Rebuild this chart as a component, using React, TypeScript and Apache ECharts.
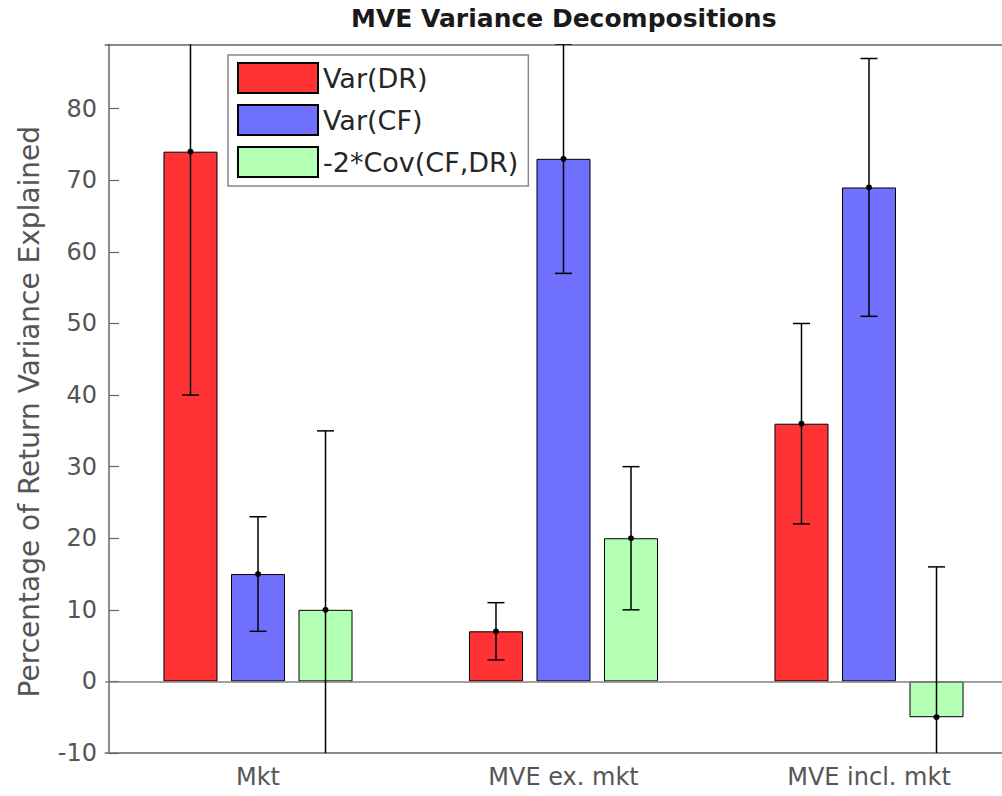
import React, { useEffect, useRef } from "react";
import * as echarts from "echarts";

const categories = ["Mkt", "MVE ex. mkt", "MVE incl. mkt"];
const seriesNames = ["Var(DR)", "Var(CF)", "-2*Cov(CF,DR)"];
const varDR = [74, 7, 36];
const varCF = [15, 73, 69];
const covTerm = [10, 20, -5];
const varDRErr = [34, 4, 14];
const varCFErr = [8, 16, 18];
const covErr = [25, 10, 21];
const yTicks = { min: -10, max: 89, interval: 10 };

const seriesColors = ["#FF3333", "#7070FF", "#B3FFB3"];
const FONT = "DejaVu Sans";
const BAR_RATIO = 0.1768;
const GAP_RATIO = 0.25;

export default function App() {
  const ref = useRef<HTMLDivElement>(null);
  useEffect(() => {
    if (!ref.current) return;
    const chart = echarts.init(ref.current, undefined, { renderer: "svg" });
    const values = [varDR, varCF, covTerm];
    const errs = [varDRErr, varCFErr, covErr];
    const errData: number[][] = [];
    values.forEach((vals, s) => {
      vals.forEach((v, i) => {
        errData.push([i, v - errs[s][i], v + errs[s][i], v, s]);
      });
    });

    const barSeries = values.map((vals, s) => ({
      name: seriesNames[s],
      type: "bar",
      data: vals,
      barWidth: BAR_RATIO * 100 + "%",
      barGap: GAP_RATIO * 100 + "%",
      itemStyle: { color: seriesColors[s], borderColor: "#000", borderWidth: 1 },
      z: 2,
      ...(s === 0
        ? {
            markLine: {
              silent: true,
              symbol: ["none", "none"],
              label: { show: false },
              lineStyle: { color: "#808080", width: 1.5, type: "solid" },
              data: [{ yAxis: 0 }],
            },
          }
        : {}),
    }));

    chart.setOption({
      animation: false,
      title: {
        text: "MVE Variance Decompositions",
        left: 351,
        top: 6,
        padding: 0,
        textStyle: { fontFamily: FONT, fontSize: 25, fontWeight: "bold", color: "#1a1a1a" },
      },
      legend: {
        data: seriesNames,
        orient: "vertical",
        left: 228,
        top: 55,
        itemWidth: 80,
        itemHeight: 30,
        itemGap: 10,
        padding: [7, 10, 8, 9],
        backgroundColor: "#fff",
        borderColor: "#888",
        borderWidth: 1.5,
        icon: "rect",
        textStyle: { fontFamily: FONT, fontSize: 27, color: "#262626" },
      },
      grid: { left: 105.25, right: 8.25, top: 44.3, bottom: 43, containLabel: false },
      xAxis: [
        {
          type: "category",
          data: categories,
          position: "bottom",
          axisLine: { onZero: false, lineStyle: { color: "#666", width: 1.5 } },
          axisTick: { inside: true, length: 10, alignWithLabel: true, lineStyle: { color: "#666", width: 1.2 } },
          axisLabel: { fontFamily: FONT, fontSize: 24, color: "#555", margin: 12 },
        },
        {
          type: "category",
          data: categories,
          position: "top",
          axisLine: { onZero: false, lineStyle: { color: "#666", width: 1.5 } },
          axisTick: { inside: true, length: 10, alignWithLabel: true, lineStyle: { color: "#666", width: 1.2 } },
          axisLabel: { show: false },
        },
      ],
      yAxis: {
        type: "value",
        min: yTicks.min,
        max: yTicks.max,
        interval: yTicks.interval,
        offset: -3.75,
        name: "Percentage of Return Variance Explained",
        nameLocation: "middle",
        nameGap: 66,
        nameTextStyle: { fontFamily: FONT, fontSize: 28, color: "#555", padding: [0, 26, 0, 0] },
        axisLine: { show: true, lineStyle: { color: "#666", width: 1.5 } },
        axisTick: { show: true, inside: true, length: 10, lineStyle: { color: "#666", width: 1.2 } },
        axisLabel: { fontFamily: FONT, fontSize: 24, color: "#555", margin: 12, showMaxLabel: false },
        splitLine: { show: false },
      },
      series: [
        ...barSeries,
        {
          type: "custom",
          name: "errors",
          clip: true,
          z: 5,
          data: errData,
          encode: { x: 0, y: [1, 2, 3] },
          renderItem: (params: any, api: any) => {
            const cat = api.value(0);
            const lo = api.value(1);
            const hi = api.value(2);
            const v = api.value(3);
            const s = api.value(4);
            const band = api.size([1, 0])[0];
            const off = (s - 1) * band * BAR_RATIO * (1 + GAP_RATIO);
            const pLo = api.coord([cat, lo]);
            const pHi = api.coord([cat, hi]);
            const pV = api.coord([cat, v]);
            const x = pV[0] + off;
            const cap = 8.5;
            const st = { stroke: "#000", lineWidth: 1.5 };
            return {
              type: "group",
              children: [
                { type: "line", shape: { x1: x, y1: pLo[1], x2: x, y2: pHi[1] }, style: st },
                { type: "line", shape: { x1: x - cap, y1: pLo[1], x2: x + cap, y2: pLo[1] }, style: st },
                { type: "line", shape: { x1: x - cap, y1: pHi[1], x2: x + cap, y2: pHi[1] }, style: st },
                { type: "circle", shape: { cx: x, cy: pV[1], r: 3 }, style: { fill: "#000" } },
              ],
            };
          },
        },
      ],
    });
    return () => chart.dispose();
  }, []);
  return (
    <div
      style={{ position: "absolute", left: 0, top: 0, width: 1002, height: 796, overflow: "hidden", background: "#fff" }}
    >
      <div ref={ref} style={{ width: 1030, height: 796 }} />
    </div>
  );
}
